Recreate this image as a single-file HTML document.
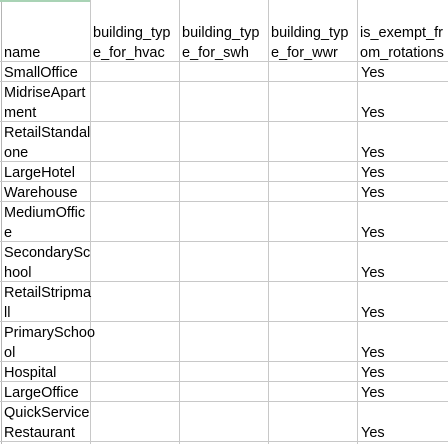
<!DOCTYPE html>
<html><head><meta charset="utf-8"></head>
<body style="margin:0;padding:0;background:#fff;overflow:hidden">
<svg xmlns="http://www.w3.org/2000/svg" width="448" height="444" viewBox="0 0 448 444" style="display:block">
<rect x="0" y="0" width="448" height="444" fill="#fff"/>
<g stroke="#c8c8c8" stroke-width="1" shape-rendering="crispEdges">
<line x1="1.5" y1="0" x2="1.5" y2="444" stroke="#b4b4b4"/>
<line x1="90.5" y1="0" x2="90.5" y2="444"/>
<line x1="179.5" y1="0" x2="179.5" y2="444"/>
<line x1="268.5" y1="0" x2="268.5" y2="444"/>
<line x1="357.5" y1="0" x2="357.5" y2="444"/>
<line x1="0" y1="61.5" x2="448" y2="61.5"/>
<line x1="0" y1="81.5" x2="448" y2="81.5"/>
<line x1="0" y1="121.5" x2="448" y2="121.5"/>
<line x1="0" y1="161.5" x2="448" y2="161.5"/>
<line x1="0" y1="181.5" x2="448" y2="181.5"/>
<line x1="0" y1="201.5" x2="448" y2="201.5"/>
<line x1="0" y1="241.5" x2="448" y2="241.5"/>
<line x1="0" y1="281.5" x2="448" y2="281.5"/>
<line x1="0" y1="321.5" x2="448" y2="321.5"/>
<line x1="0" y1="361.5" x2="448" y2="361.5"/>
<line x1="0" y1="381.5" x2="448" y2="381.5"/>
<line x1="0" y1="401.5" x2="448" y2="401.5"/>
<line x1="0" y1="441.5" x2="448" y2="441.5"/>
</g>
<rect x="0" y="0" width="90" height="2" fill="#a9d3b5"/>
<g font-family="Liberation Sans, sans-serif" font-size="14.5" fill="#000">
<text x="4" y="57">name</text>
<text x="93" y="37">building_typ</text><text x="93" y="57">e_for_hvac</text>
<text x="182" y="37">building_typ</text><text x="182" y="57">e_for_swh</text>
<text x="271" y="37">building_typ</text><text x="271" y="57">e_for_wwr</text>
<text x="360" y="37">is_exempt_fr</text><text x="360" y="57">om_rotations</text>

<text x="4" y="77">SmallOffice</text>
<text x="4" y="97">MidriseApart</text><text x="4" y="117">ment</text>
<text x="4" y="137">RetailStandal</text><text x="4" y="157">one</text>
<text x="4" y="177">LargeHotel</text>
<text x="4" y="197">Warehouse</text>
<text x="4" y="217">MediumOffic</text><text x="4" y="237">e</text>
<text x="4" y="257">SecondarySc</text><text x="4" y="277">hool</text>
<text x="4" y="297">RetailStripma</text><text x="4" y="317">ll</text>
<text x="4" y="337">PrimarySchoo</text><text x="4" y="357">ol</text>
<text x="4" y="377">Hospital</text>
<text x="4" y="397">LargeOffice</text>
<text x="4" y="417">QuickService</text><text x="4" y="437">Restaurant</text>

<text x="361" y="77">Yes</text>
<text x="361" y="117">Yes</text>
<text x="361" y="157">Yes</text>
<text x="361" y="177">Yes</text>
<text x="361" y="197">Yes</text>
<text x="361" y="237">Yes</text>
<text x="361" y="277">Yes</text>
<text x="361" y="317">Yes</text>
<text x="361" y="357">Yes</text>
<text x="361" y="377">Yes</text>
<text x="361" y="397">Yes</text>
<text x="361" y="437">Yes</text>
</g>
</svg>
</body></html>
